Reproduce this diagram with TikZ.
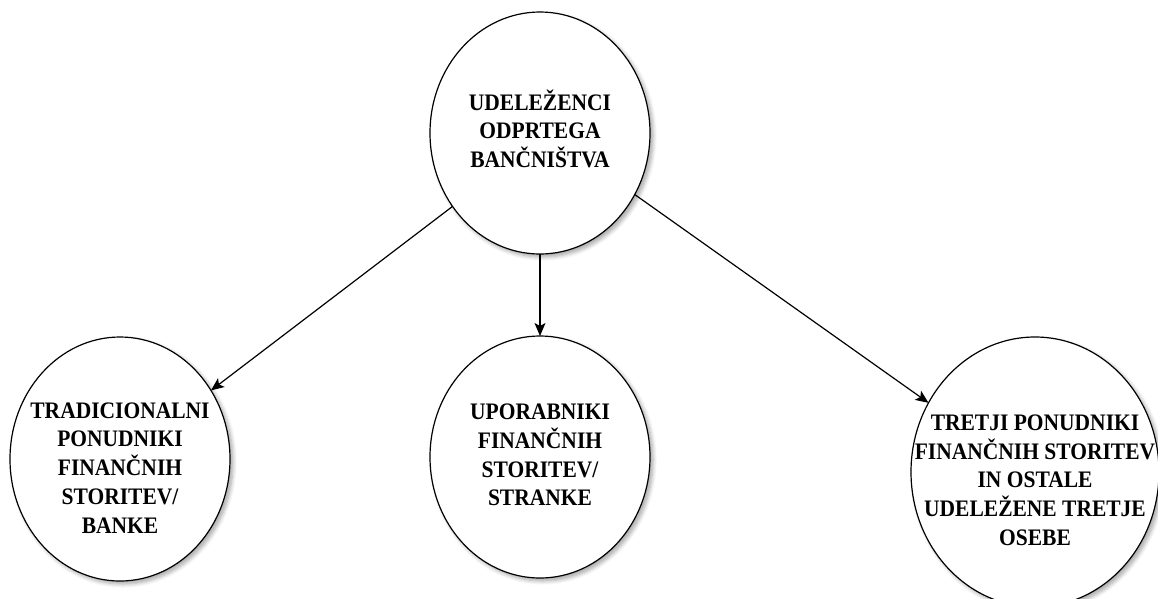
\documentclass[tikz,border=0pt]{standalone}
\usepackage{fontspec}
\setmainfont{Liberation Serif}
\usetikzlibrary{shapes.geometric,arrows.meta,shadows.blur}

% centred multi-line label, slightly stretched vertically
\newcommand\tallstack[1]{\scalebox{1}[1.1]{\begin{tabular}{@{}c@{}}#1\end{tabular}}}

\tikzset{
  actor/.style={
    ellipse, draw=black, line width=1.2pt, fill=white,
    inner sep=0pt, outer sep=0pt,
    blur shadow={shadow xshift=3pt, shadow yshift=-3pt,
                 shadow blur steps=6, shadow blur radius=4pt,
                 shadow opacity=35}
  },
  caption/.style={
    align=center, text=black, inner sep=0pt,
    font=\bfseries\fontsize{21.5}{26}\selectfont
  },
  link/.style={
    line width=1.2pt, draw=black,
    -{Stealth[length=13pt,width=11pt,inset=3pt]}
  }
}

\begin{document}
\begin{tikzpicture}[x=1pt,y=-1pt]
  \useasboundingbox (0,0) rectangle (1158,598);

  % central actor
  \node[actor, minimum width=220pt, minimum height=242pt] (hub) at (540,133) {};
  \node[caption] (hubtext) at (hub.center)
    {\tallstack{UDELEŽENCI\\ODPRTEGA\\BANČNIŠTVA}};

  % participant groups
  \node[actor, minimum width=220pt, minimum height=244pt] (banks) at (120,459) {};
  \node[caption] (bankstext) at (120,470)
    {\tallstack{TRADICIONALNI\\PONUDNIKI\\FINANČNIH\\STORITEV/\\BANKE}};

  \node[actor, minimum width=220pt, minimum height=242pt] (users) at (540,457) {};
  \node[caption] (userstext) at (users.center)
    {\tallstack{UPORABNIKI\\FINANČNIH\\STORITEV/\\STRANKE}};

  \node[actor, minimum width=248pt, minimum height=270pt] (third) at (1035,472) {};
  \node[caption] (thirdtext) at (1035,482)
    {\tallstack{TRETJI PONUDNIKI\\FINANČNIH STORITEV\\IN OSTALE\\UDELEŽENE TRETJE\\OSEBE}};

  % connectors
  \draw[link] (hub.220.5) -- (banks.37.4);
  \draw[link] (hub.south) -- (users.north);
  \draw[link] (hub.-33.7) -- (third.147.5);
\end{tikzpicture}
\end{document}
